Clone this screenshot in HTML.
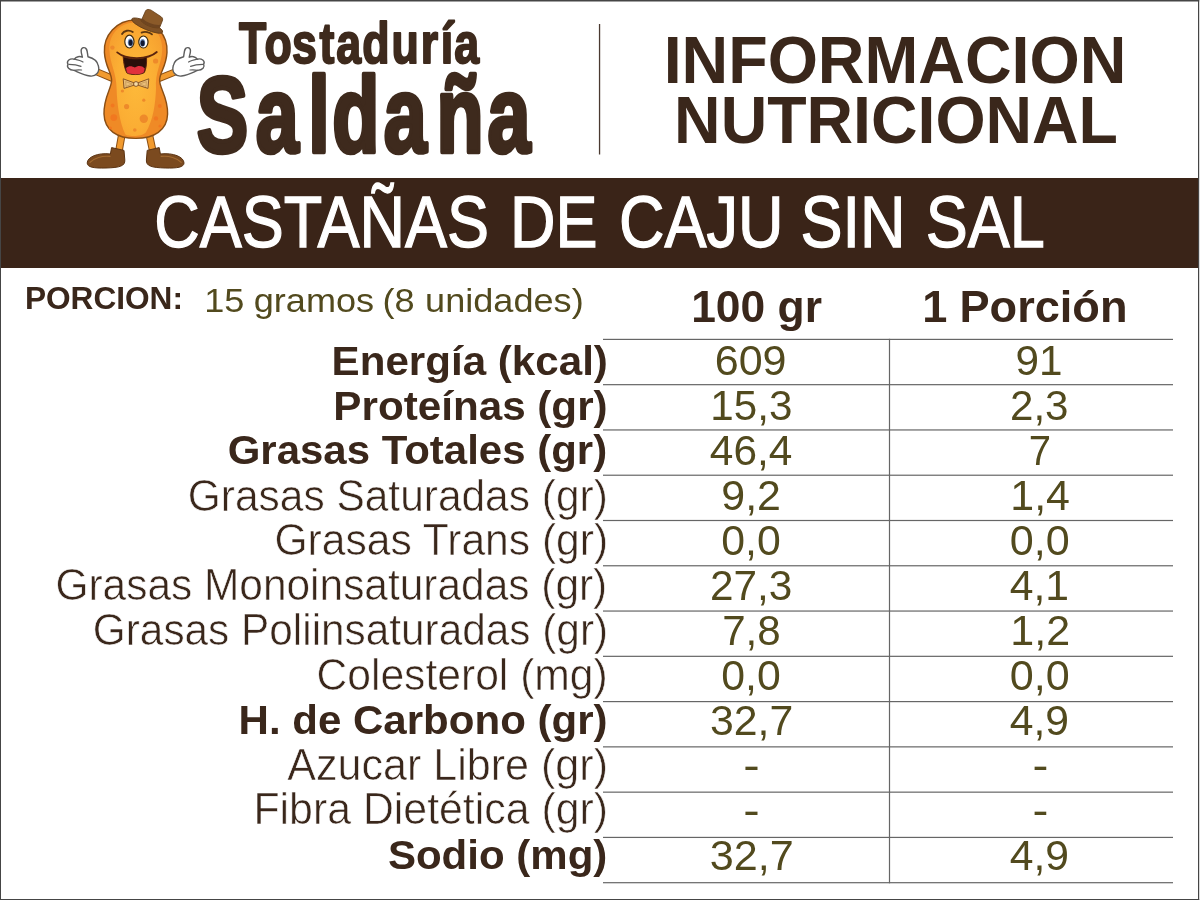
<!DOCTYPE html>
<html lang="es">
<head>
<meta charset="utf-8">
<title>Información Nutricional - Castañas de Caju sin sal</title>
<style>
html,body{margin:0;padding:0;background:#fff;}
body{width:1200px;height:900px;overflow:hidden;position:relative;font-family:"Liberation Sans",sans-serif;}
#card{position:absolute;left:0;top:0;width:1200px;height:900px;box-sizing:border-box;background:#fff;}
#banner{position:absolute;left:0;top:178px;width:1199px;height:90.4px;background:#3a2418;}
svg{position:absolute;left:0;top:0;}
text{font-family:"Liberation Sans",sans-serif;white-space:pre;}
</style>
</head>
<body>
<div id="card">
<div id="banner"></div>
<svg id="art" width="1200" height="900" viewBox="0 0 1200 900">
<rect x="598.9" y="24" width="1.3" height="130.5" fill="#4a3930"/>
<g id="frame" fill="#454545"><rect x="0" y="0" width="1199.2" height="1.5"/><rect x="0" y="0" width="1" height="900"/><rect x="1198" y="0" width="1.2" height="900"/><rect x="0" y="899" width="1199.2" height="1"/></g>
<g id="mascot"><defs>
<radialGradient id="pg" cx="0.5" cy="0.55" r="0.62">
<stop offset="0" stop-color="#fdb93a"/><stop offset="0.6" stop-color="#fbae34"/><stop offset="1" stop-color="#f6a02f"/>
</radialGradient>
</defs>
<g transform="translate(40,0) scale(0.2)">
<!-- arms -->
<path d="M362 392 L262 350" stroke="#8a4e14" stroke-width="36" stroke-linecap="round" fill="none"/>
<path d="M362 392 L262 350" stroke="#f19a2e" stroke-width="26" stroke-linecap="round" fill="none"/>
<path d="M596 392 L700 350" stroke="#8a4e14" stroke-width="36" stroke-linecap="round" fill="none"/>
<path d="M596 392 L700 350" stroke="#f19a2e" stroke-width="26" stroke-linecap="round" fill="none"/>
<!-- legs -->
<path d="M408 680 L392 770" stroke="#8a4e14" stroke-width="38" stroke-linecap="round" fill="none"/>
<path d="M408 680 L392 770" stroke="#f19a2e" stroke-width="28" stroke-linecap="round" fill="none"/>
<path d="M548 680 L566 765" stroke="#8a4e14" stroke-width="38" stroke-linecap="round" fill="none"/>
<path d="M548 680 L566 765" stroke="#f19a2e" stroke-width="28" stroke-linecap="round" fill="none"/>
<!-- shoes -->
<path d="M358 738 L420 752 L424 800 C426 830 400 838 330 840 C270 842 236 836 236 815 C236 785 290 762 352 770 Z" fill="#7b4a1f" stroke="#5b3312" stroke-width="5" stroke-linejoin="round"/>
<path d="M596 738 L536 752 L532 800 C530 830 556 838 626 840 C686 842 720 836 720 815 C720 785 666 762 602 770 Z" fill="#7b4a1f" stroke="#5b3312" stroke-width="5" stroke-linejoin="round"/>
<path d="M250 812 C270 790 310 778 350 782" stroke="#a36a30" stroke-width="6" fill="none" stroke-linecap="round"/>
<path d="M706 812 C686 790 646 778 606 782" stroke="#a36a30" stroke-width="6" fill="none" stroke-linecap="round"/>
<!-- body -->
<path d="M478 100 C580 100 640 180 635 262 C631 332 600 360 598 400 C596 440 640 482 638 570 C636 652 570 692 478 692 C386 692 322 652 320 570 C318 482 360 440 358 400 C356 360 326 332 322 262 C317 180 380 100 478 100 Z" fill="#ef8a26" stroke="#8a4e14" stroke-width="7"/>
<path d="M478 112 C560 112 614 170 611 250 C608 322 574 362 580 442 C577 520 566 600 529 662 C510 682 450 684 427 672 C398 612 385 520 383 442 C382 362 350 322 347 250 C344 170 398 112 478 112 Z" fill="url(#pg)"/>
<!-- spots -->
<g fill="#ee8a2a">
<circle cx="433" cy="533" r="13"/><circle cx="519" cy="501" r="8"/><circle cx="519" cy="594" r="21"/><circle cx="474" cy="650" r="9"/><circle cx="412" cy="455" r="8"/><circle cx="362" cy="238" r="11"/><circle cx="578" cy="305" r="13"/>
</g>
<g fill="#f2761f" opacity="0.85">
<circle cx="363" cy="527" r="10"/><circle cx="369" cy="588" r="17"/><circle cx="599" cy="530" r="10"/><circle cx="580" cy="592" r="11"/><circle cx="352" cy="640" r="8"/><circle cx="600" cy="630" r="8"/>
</g>
<!-- hat -->
<g transform="translate(0,4)"><ellipse cx="536" cy="124" rx="84" ry="21" transform="rotate(23 536 124)" fill="#7f5125" stroke="#623c16" stroke-width="4"/>
<path d="M506 100 L528 50 C532 42 545 41 556 47 L606 80 C614 86 615 94 611 102 L598 134 C570 140 520 120 506 100 Z" fill="#8b5a29" stroke="#623c16" stroke-width="4" stroke-linejoin="round"/>
<path d="M506 100 L512 87 C530 108 575 124 603 120 L598 134 C570 140 520 120 506 100 Z" fill="#6f4520"/></g>
<!-- eyebrows -->
<path d="M410 170 C420 152 446 148 464 160" stroke="#5e3710" stroke-width="9" fill="none" stroke-linecap="round"/>
<path d="M508 163 C524 156 548 160 560 172" stroke="#5e3710" stroke-width="9" fill="none" stroke-linecap="round"/>
<!-- eyes -->
<ellipse cx="447" cy="208" rx="23" ry="32" fill="#fff" stroke="#3d2b10" stroke-width="6"/>
<ellipse cx="517" cy="210" rx="23" ry="30" fill="#fff" stroke="#3d2b10" stroke-width="6"/>
<ellipse cx="452" cy="212" rx="13" ry="19" fill="#6f93c4"/><ellipse cx="453" cy="214" rx="10" ry="15" fill="#101830"/>
<ellipse cx="513" cy="214" rx="13" ry="19" fill="#6f93c4"/><ellipse cx="513" cy="216" rx="10" ry="15" fill="#101830"/>
<!-- mouth -->
<path d="M386 262 C430 300 540 300 584 260" stroke="#5a240d" stroke-width="9" fill="none" stroke-linecap="round"/>
<path d="M416 284 C455 297 500 297 533 286 C534 320 530 345 522 362 C505 376 450 376 434 364 C424 345 418 318 416 284 Z" fill="#2a0f0a" stroke="#5a240d" stroke-width="5" stroke-linejoin="round"/>
<path d="M430 340 C445 326 462 330 474 338 C488 326 510 326 524 342 C522 352 520 358 518 362 C500 374 452 374 436 364 C433 356 431 348 430 340 Z" fill="#e0303c"/>
<!-- bow tie -->
<path d="M470 414 L416 394 L420 442 L470 426 Z" fill="#e9bf7a" stroke="#8a5726" stroke-width="5" stroke-linejoin="round"/>
<path d="M490 414 L544 394 L540 442 L490 426 Z" fill="#e9bf7a" stroke="#8a5726" stroke-width="5" stroke-linejoin="round"/>
<path d="M428 408 L462 420 L430 432 Z" fill="none" stroke="#b98a4a" stroke-width="3"/>
<path d="M532 408 L498 420 L530 432 Z" fill="none" stroke="#b98a4a" stroke-width="3"/>
<circle cx="480" cy="420" r="12" fill="#f4dca8" stroke="#8a5726" stroke-width="5"/>
<!-- hands -->
<g id="hl" fill="#fff" stroke="#5e5e5e" stroke-width="7" stroke-linejoin="round" stroke-linecap="round">
<path d="M292 330 C300 360 280 384 250 380 C215 376 190 360 170 352 C145 350 132 335 140 322 C130 305 150 290 172 296 C180 282 200 280 212 286 C205 262 200 240 218 238 C238 236 236 262 240 284 C270 292 288 306 292 330 Z"/>
<path d="M172 296 C190 300 205 304 215 310 M145 322 C170 322 190 326 205 332 M170 352 C185 348 195 348 208 350" fill="none" stroke-width="6"/>
</g>
<g fill="#fff" stroke="#5e5e5e" stroke-width="7" stroke-linejoin="round" stroke-linecap="round" transform="translate(958,0) scale(-1,1)">
<path d="M292 330 C300 360 280 384 250 380 C215 376 190 360 170 352 C145 350 132 335 140 322 C130 305 150 290 172 296 C180 282 200 280 212 286 C205 262 200 240 218 238 C238 236 236 262 240 284 C270 292 288 306 292 330 Z"/>
<path d="M172 296 C190 300 205 304 215 310 M145 322 C170 322 190 326 205 332 M170 352 C185 348 195 348 208 350" fill="none" stroke-width="6"/>
</g>
</g>
</g>
<g id="logo"><text transform="translate(0,63.4) scale(0.7772,1)" font-size="57.5" font-weight="700" fill="#3e2a1d" stroke="#3e2a1d" stroke-width="2" stroke-linejoin="round" stroke-linecap="round"><tspan x="307.40">T</tspan><tspan x="340.21">o</tspan><tspan x="375.80">s</tspan><tspan x="411.26">t</tspan><tspan x="432.71">a</tspan><tspan x="466.02">d</tspan><tspan x="503.62">u</tspan><tspan x="541.24">r</tspan><tspan x="567.09">í</tspan><tspan x="584.54">a</tspan></text>
<text transform="translate(0,151.7) scale(0.7110,1)" font-size="108.5" font-weight="700" fill="#3e2a1d" stroke="#3e2a1d" stroke-width="4.5" stroke-linejoin="round" stroke-linecap="round"><tspan x="276.74">S</tspan><tspan x="359.70">a</tspan><tspan x="433.67">l</tspan><tspan x="467.45">d</tspan><tspan x="539.73">a</tspan><tspan x="614.04">ñ</tspan><tspan x="685.79">a</tspan></text></g>
<g id="title"><text transform="translate(0,246.9) scale(0.8654,1)" font-size="72.8" font-weight="400" fill="#ffffff" stroke="#fff" stroke-width="1.3"><tspan x="178.27">CASTAÑAS</tspan> <tspan x="589.29">DE</tspan> <tspan x="715.41">CAJU</tspan> <tspan x="924.96">SIN</tspan> <tspan x="1069.79">SAL</tspan></text></g>
<g id="grid"><rect x="603" y="338.80" width="570" height="1.2" fill="#666"/><rect x="603" y="384.07" width="570" height="1.2" fill="#666"/><rect x="603" y="429.35" width="570" height="1.2" fill="#666"/><rect x="603" y="474.62" width="570" height="1.2" fill="#666"/><rect x="603" y="519.90" width="570" height="1.2" fill="#666"/><rect x="603" y="565.17" width="570" height="1.2" fill="#666"/><rect x="603" y="610.45" width="570" height="1.2" fill="#666"/><rect x="603" y="655.73" width="570" height="1.2" fill="#666"/><rect x="603" y="701.00" width="570" height="1.2" fill="#666"/><rect x="603" y="746.27" width="570" height="1.2" fill="#666"/><rect x="603" y="791.55" width="570" height="1.2" fill="#666"/><rect x="603" y="836.82" width="570" height="1.2" fill="#666"/><rect x="603" y="882.10" width="570" height="1.2" fill="#666"/><rect x="888.9" y="338.8" width="1.2" height="544.50" fill="#666"/></g>
<g id="texts">
<text transform="translate(0,82.5) scale(0.9712,1)" font-size="66.5" font-weight="700" fill="#3a271b" ><tspan x="683.33">INFORMACION</tspan></text>
<text transform="translate(0,142.5) scale(0.9690,1)" font-size="66.5" font-weight="700" fill="#3a271b" ><tspan x="695.67">NUTRICIONAL</tspan></text>
<text transform="translate(0,308.5) scale(1.0200,1)" font-size="31" font-weight="700" fill="#3a271b" ><tspan x="24.47">PORCION:</tspan></text>
<text transform="translate(0,311.9) scale(1.0622,1)" font-size="34" font-weight="400" fill="#524a1e" ><tspan x="192.33">15</tspan> <tspan x="238.88">gramos</tspan> <tspan x="360.14">(8</tspan> <tspan x="400.21">unidades)</tspan></text>
<text transform="translate(0,321.6) scale(1.0023,1)" font-size="44.3" font-weight="700" fill="#3a271b" ><tspan x="689.61">100</tspan> <tspan x="775.83">gr</tspan></text>
<text transform="translate(0,321.6) scale(1.0189,1)" font-size="44.3" font-weight="700" fill="#3a271b" ><tspan x="905.18">1</tspan> <tspan x="941.68">Porción</tspan></text>
<text transform="translate(0,374.5) scale(1.0535,1)" font-size="40" font-weight="700" fill="#3a271b" ><tspan x="314.75">Energía (kcal)</tspan></text>
<text transform="translate(0,374.6) scale(1.0044,1)" font-size="42.9" font-weight="400" fill="#524a1e" ><tspan x="711.55">609</tspan></text>
<text transform="translate(0,374.6) scale(0.9841,1)" font-size="42.9" font-weight="400" fill="#524a1e" ><tspan x="1031.95">91</tspan></text>
<text transform="translate(0,420.0) scale(1.0549,1)" font-size="40" font-weight="700" fill="#3a271b" ><tspan x="315.99">Proteínas (gr)</tspan></text>
<text transform="translate(0,419.6) scale(0.9833,1)" font-size="42.9" font-weight="400" fill="#524a1e" ><tspan x="722.39">15,3</tspan></text>
<text transform="translate(0,419.6) scale(0.9821,1)" font-size="42.9" font-weight="400" fill="#524a1e" ><tspan x="1028.40">2,3</tspan></text>
<text transform="translate(0,464.2) scale(1.0496,1)" font-size="40" font-weight="700" fill="#3a271b" ><tspan x="216.90">Grasas Totales (gr)</tspan></text>
<text transform="translate(0,464.6) scale(0.9877,1)" font-size="42.9" font-weight="400" fill="#524a1e" ><tspan x="718.69">46,4</tspan></text>
<text transform="translate(0,464.6) scale(0.9350,1)" font-size="42.9" font-weight="400" fill="#524a1e" ><tspan x="1100.14">7</tspan></text>
<text transform="translate(0,510.7) scale(0.9541,1)" font-size="44.5" font-weight="400" fill="#3a271b" stroke="#fff" stroke-width="0.6"><tspan x="196.86">Grasas Saturadas (gr)</tspan></text>
<text transform="translate(0,509.6) scale(1.0000,1)" font-size="42.9" font-weight="400" fill="#524a1e" ><tspan x="721.30">9,2</tspan></text>
<text transform="translate(0,509.6) scale(1.0000,1)" font-size="42.9" font-weight="400" fill="#524a1e" ><tspan x="1010.30">1,4</tspan></text>
<text transform="translate(0,555.2) scale(0.9576,1)" font-size="44.5" font-weight="400" fill="#3a271b" stroke="#fff" stroke-width="0.6"><tspan x="286.58">Grasas Trans (gr)</tspan></text>
<text transform="translate(0,554.6) scale(0.9982,1)" font-size="42.9" font-weight="400" fill="#524a1e" ><tspan x="722.59">0,0</tspan></text>
<text transform="translate(0,554.6) scale(1.0054,1)" font-size="42.9" font-weight="400" fill="#524a1e" ><tspan x="1004.31">0,0</tspan></text>
<text transform="translate(0,600.3) scale(0.9538,1)" font-size="44.5" font-weight="400" fill="#3a271b" stroke="#fff" stroke-width="0.6"><tspan x="58.13">Grasas Monoinsaturadas (gr)</tspan></text>
<text transform="translate(0,599.6) scale(0.9873,1)" font-size="42.9" font-weight="400" fill="#524a1e" ><tspan x="719.13">27,3</tspan></text>
<text transform="translate(0,599.6) scale(0.9947,1)" font-size="42.9" font-weight="400" fill="#524a1e" ><tspan x="1015.15">4,1</tspan></text>
<text transform="translate(0,645.0) scale(0.9516,1)" font-size="44.5" font-weight="400" fill="#3a271b" stroke="#fff" stroke-width="0.6"><tspan x="97.57">Grasas Poliinsaturadas (gr)</tspan></text>
<text transform="translate(0,644.6) scale(0.9821,1)" font-size="42.9" font-weight="400" fill="#524a1e" ><tspan x="735.37">7,8</tspan></text>
<text transform="translate(0,644.6) scale(1.0037,1)" font-size="42.9" font-weight="400" fill="#524a1e" ><tspan x="1006.56">1,2</tspan></text>
<text transform="translate(0,689.9) scale(0.9581,1)" font-size="44.5" font-weight="400" fill="#3a271b" stroke="#fff" stroke-width="0.6"><tspan x="330.28">Colesterol (mg)</tspan></text>
<text transform="translate(0,689.6) scale(0.9982,1)" font-size="42.9" font-weight="400" fill="#524a1e" ><tspan x="722.59">0,0</tspan></text>
<text transform="translate(0,689.6) scale(1.0054,1)" font-size="42.9" font-weight="400" fill="#524a1e" ><tspan x="1004.31">0,0</tspan></text>
<text transform="translate(0,734.3) scale(1.0514,1)" font-size="40" font-weight="700" fill="#3a271b" ><tspan x="226.87">H. de Carbono (gr)</tspan></text>
<text transform="translate(0,734.6) scale(0.9975,1)" font-size="42.9" font-weight="400" fill="#524a1e" ><tspan x="711.81">32,7</tspan></text>
<text transform="translate(0,734.6) scale(0.9947,1)" font-size="42.9" font-weight="400" fill="#524a1e" ><tspan x="1015.15">4,9</tspan></text>
<text transform="translate(0,780.0) scale(0.9679,1)" font-size="44.5" font-weight="400" fill="#3a271b" stroke="#fff" stroke-width="0.6"><tspan x="296.86">Azucar Libre (gr)</tspan></text>
<text transform="translate(0,779.6) scale(1.1500,1)" font-size="42.9" font-weight="400" fill="#524a1e" ><tspan x="646.26">-</tspan></text>
<text transform="translate(0,779.6) scale(1.1100,1)" font-size="42.9" font-weight="400" fill="#524a1e" ><tspan x="930.16">-</tspan></text>
<text transform="translate(0,823.8) scale(0.9626,1)" font-size="44.5" font-weight="400" fill="#3a271b" stroke="#fff" stroke-width="0.6"><tspan x="263.30">Fibra Dietética (gr)</tspan></text>
<text transform="translate(0,824.6) scale(1.1500,1)" font-size="42.9" font-weight="400" fill="#524a1e" ><tspan x="646.26">-</tspan></text>
<text transform="translate(0,824.6) scale(1.1100,1)" font-size="42.9" font-weight="400" fill="#524a1e" ><tspan x="930.16">-</tspan></text>
<text transform="translate(0,869.0) scale(1.0512,1)" font-size="40" font-weight="700" fill="#3a271b" ><tspan x="369.00">Sodio (mg)</tspan></text>
<text transform="translate(0,869.6) scale(1.0063,1)" font-size="42.9" font-weight="400" fill="#524a1e" ><tspan x="705.27">32,7</tspan></text>
<text transform="translate(0,869.6) scale(0.9947,1)" font-size="42.9" font-weight="400" fill="#524a1e" ><tspan x="1015.15">4,9</tspan></text>
</g>
</svg>
</div>
</body>
</html>
